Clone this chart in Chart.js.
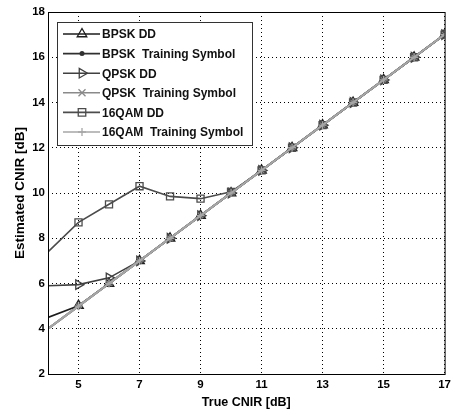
<!DOCTYPE html>
<html>
<head>
<meta charset="utf-8">
<script src="https://cdn.jsdelivr.net/npm/chart.js@4"></script>
<style>
  body { margin: 0; background: #fff; }
  canvas { display: block; }
</style>
</head>
<body>
<canvas id="cnirChart" width="455" height="415"></canvas>
<script>
// true CNIR values (x axis)
const trueCnir = [4, 5, 6, 7, 8, 9, 10, 11, 12, 13, 14, 15, 16, 17];
const xTicks = [5, 7, 9, 11, 13, 15, 17];

// estimated CNIR per scheme
const bpskDD = [4.5, 5.02, 6, 7, 8, 9, 10, 11, 12, 13, 14, 15, 16, 17];
const bpskTraining = [4, 5, 6, 7, 8, 9, 10, 11, 12, 13, 14, 15, 16, 17];
const qpskDD = [5.9, 5.95, 6.25, 7, 8, 9, 10, 11, 12, 13, 14, 15, 16, 17];
const qpskTraining = [4, 5, 6, 7, 8, 9, 10, 11, 12, 13, 14, 15, 16, 17];
const qam16DD = [7.4, 8.7, 9.5, 10.3, 9.85, 9.75, 10.05, 11, 12, 13, 14, 15, 16, 17];
const qam16Training = [4, 5, 6, 7, 8, 9, 10, 11, 12, 13, 14, 15, 16, 17];

const seriesNames = ['BPSK DD', 'BPSK  Training Symbol', 'QPSK DD', 'QPSK  Training Symbol', '16QAM DD', '16QAM  Training Symbol'];
const seriesValues = [bpskDD, bpskTraining, qpskDD, qpskTraining, qam16DD, qam16Training];

const styles = [
  { color: '#1c1c1c', marker: 'triangle', rot: 0, r: 5.5 },
  { color: '#303030', marker: 'dot', rot: 0, r: 2.5 },
  { color: '#404040', marker: 'triangle', rot: 90, r: 5.5 },
  { color: '#8a8a8a', marker: 'crossRot', rot: 0, r: 3.5 },
  { color: '#4c4c4c', marker: 'rect', rot: 0, r: 5 },
  { color: '#a6a6a6', marker: 'cross', rot: 0, r: 4 }
];

const toPts = ys => ys.map((y, i) => ({ x: trueCnir[i], y: y }));
const pointStyleFor = s => s.marker === 'dot' ? 'circle' : s.marker;

function drawMarker(ctx, s, x, y) {
  ctx.save();
  ctx.strokeStyle = s.color;
  ctx.fillStyle = s.color;
  ctx.lineWidth = 1.3;
  ctx.translate(x, y);
  ctx.rotate(s.rot * Math.PI / 180);
  const r = s.r;
  ctx.beginPath();
  if (s.marker === 'triangle') {
    ctx.moveTo(0, -r);
    ctx.lineTo(r * 0.87, r * 0.5);
    ctx.lineTo(-r * 0.87, r * 0.5);
    ctx.closePath();
    ctx.stroke();
  } else if (s.marker === 'dot') {
    ctx.arc(0, 0, r, 0, Math.PI * 2);
    ctx.fill();
  } else if (s.marker === 'rect') {
    ctx.rect(-r * 0.75, -r * 0.75, r * 1.5, r * 1.5);
    ctx.stroke();
  } else if (s.marker === 'cross') {
    ctx.moveTo(-r, 0); ctx.lineTo(r, 0);
    ctx.moveTo(0, -r); ctx.lineTo(0, r);
    ctx.stroke();
  } else if (s.marker === 'crossRot') {
    ctx.moveTo(-r, -r); ctx.lineTo(r, r);
    ctx.moveTo(-r, r); ctx.lineTo(r, -r);
    ctx.stroke();
  }
  ctx.restore();
}

// frame + legend box drawn inside the plot, like the matlab figure
const framePlugin = {
  id: 'frameLegend',
  afterDraw(chart) {
    const ctx = chart.ctx;
    const a = chart.chartArea;
    ctx.save();
    ctx.setLineDash([]);
    ctx.strokeStyle = '#000';
    ctx.lineWidth = 1;
    ctx.strokeRect(a.left + 0.5, a.top + 0.5, a.right - a.left, a.bottom - a.top);

    const bx = a.left + 9, by = a.top + 10, bw = 195, bh = 123;
    ctx.fillStyle = '#fff';
    ctx.fillRect(bx, by, bw, bh);
    ctx.strokeStyle = '#333';
    ctx.strokeRect(bx + 0.5, by + 0.5, bw, bh);

    ctx.font = 'bold 12px "Liberation Sans", Arial, sans-serif';
    ctx.textBaseline = 'middle';
    seriesNames.forEach((name, i) => {
      const s = styles[i];
      const y = by + 12 + i * 19.6;
      ctx.strokeStyle = s.color;
      ctx.lineWidth = 1.6;
      ctx.beginPath();
      ctx.moveTo(bx + 6, y);
      ctx.lineTo(bx + 43, y);
      ctx.stroke();
      drawMarker(ctx, s, bx + 25, y);
      ctx.fillStyle = '#111';
      ctx.fillText(name, bx + 45, y + 1);
    });
    ctx.restore();
  }
};

const fam = '"Liberation Sans", Arial, sans-serif';
const tickFont = { family: fam, size: 11.5, weight: 'bold' };

new Chart(document.getElementById('cnirChart'), {
  type: 'line',
  data: {
    datasets: seriesNames.map((name, i) => ({
      label: name,
      data: toPts(seriesValues[i]),
      borderColor: styles[i].color,
      backgroundColor: styles[i].marker === 'dot' ? styles[i].color : 'rgba(0,0,0,0)',
      borderWidth: i % 2 ? 2 : 1.6,
      pointStyle: pointStyleFor(styles[i]),
      rotation: styles[i].rot,
      pointRadius: ctx => ctx.dataIndex === 0 ? 0 : styles[i].r,
      pointBorderWidth: 1.3,
      tension: 0,
      order: 5 - i
    }))
  },
  options: {
    responsive: false,
    devicePixelRatio: 1,
    animation: false,
    layout: { padding: { top: 12, right: 8, left: 0, bottom: 0 } },
    plugins: {
      legend: { display: false },
      tooltip: { enabled: false }
    },
    scales: {
      x: {
        type: 'linear',
        min: 4,
        max: 17,
        afterBuildTicks: scale => { scale.ticks = xTicks.map(v => ({ value: v })); },
        afterFit: scale => { scale.height = 41; },
        ticks: { color: '#000', font: tickFont, padding: 4 },
        grid: { color: '#000', lineWidth: 1, drawTicks: false },
        border: { display: false, dash: [1, 3] },
        title: {
          display: true,
          text: 'True CNIR [dB]',
          color: '#000',
          font: { family: fam, size: 12.5, weight: 'bold' },
          padding: { top: 0, bottom: 5 }
        }
      },
      y: {
        min: 2,
        max: 18,
        afterFit: scale => { scale.width = 48; },
        ticks: { stepSize: 2, color: '#000', font: tickFont, padding: 3 },
        grid: { color: '#000', lineWidth: 1, drawTicks: false },
        border: { display: false, dash: [1, 3] },
        title: {
          display: true,
          text: 'Estimated CNIR [dB]',
          color: '#000',
          font: { family: fam, size: 13.5, weight: 'bold' },
          padding: { top: 12, bottom: 0 }
        }
      }
    }
  },
  plugins: [framePlugin]
});
</script>
</body>
</html>
